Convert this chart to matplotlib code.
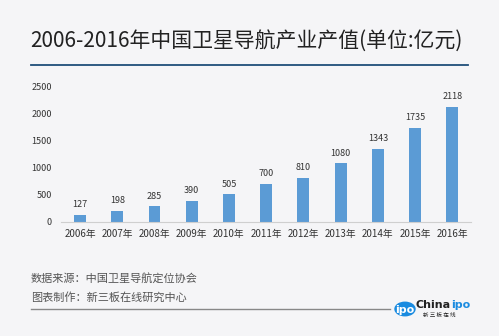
import matplotlib
matplotlib.use("Agg")
import matplotlib.pyplot as plt
from matplotlib.patches import Circle
from matplotlib.lines import Line2D

plt.rcParams['font.family'] = ['Noto Sans CJK SC', 'DejaVu Sans']

years = ['2006年', '2007年', '2008年', '2009年', '2010年', '2011年',
         '2012年', '2013年', '2014年', '2015年', '2016年']
values = [127, 198, 285, 390, 505, 700, 810, 1080, 1343, 1735, 2118]
yticks = [0, 500, 1000, 1500, 2000, 2500]

title = '2006-2016年中国卫星导航产业产值(单位:亿元)'
source = '数据来源：中国卫星导航定位协会'
maker = '图表制作：新三板在线研究中心'

bg = '#f5f5f7'
bar_color = '#5b9bd5'

W, H = 499, 336
fig = plt.figure(figsize=(W / 100, H / 100), dpi=100, facecolor=bg)

def fx(px):
    return px / W

def fy(py):
    return 1 - py / H

ax = fig.add_axes([fx(61.4), fy(221.7), fx(471) - fx(61.4), fy(86) - fy(221.7)])
ax.set_facecolor(bg)
x = list(range(len(years)))
ax.bar(x, values, width=0.32, color=bar_color, zorder=2)
ax.set_xlim(-0.5, len(years) - 0.5)
ax.set_ylim(0, 2500)
ax.set_yticks(yticks)
ax.set_yticklabels([str(t) for t in yticks], fontsize=6.5, color='#333333')
ax.set_xticks(x)
ax.set_xticklabels(years, fontsize=7, color='#333333')
for s in ['top', 'right', 'left']:
    ax.spines[s].set_visible(False)
ax.spines['bottom'].set_color('#cfcfcf')
ax.spines['bottom'].set_linewidth(0.8)
ax.tick_params(axis='both', length=0)
ax.tick_params(axis='y', pad=7)
ax.tick_params(axis='x', pad=5)
for xi, v in zip(x, values):
    ax.annotate(str(v), (xi, v), xytext=(0, 4), textcoords='offset points',
                ha='center', va='bottom', fontsize=6.5, color='#333333')

# Title and rule
fig.text(fx(30), fy(41), title, fontsize=15, color='#222222', va='center', ha='left')
fig.add_artist(Line2D([fx(31), fx(468)], [fy(65), fy(65)], color='#1f4e79', lw=1.3))

# Footer
fig.text(fx(31), fy(278), source, fontsize=8, color='#555555', va='center', ha='left')
fig.text(fx(31), fy(297), maker, fontsize=8, color='#555555', va='center', ha='left')
fig.add_artist(Line2D([fx(31), fx(390)], [fy(309), fy(309)], color='#888888', lw=1.0))

# Logo
circ = Circle((fx(405), fy(309)), 10 / W, color='#1a8be0', zorder=3)
circ.set_transform(fig.transFigure)
fig.add_artist(circ)
fig.text(fx(405), fy(310), 'ipo', fontsize=8, color='white', weight='bold',
         ha='center', va='center', zorder=4, family=['DejaVu Sans'])
fig.text(fx(451), fy(305), 'China', fontsize=8, color='#222222', weight='bold',
         ha='right', va='center', family=['DejaVu Sans'])
fig.text(fx(451.5), fy(305), 'ipo', fontsize=8, color='#1a8be0', weight='bold',
         ha='left', va='center', family=['DejaVu Sans'])
fig.text(fx(423), fy(315.5), '新 三 板 在 线', fontsize=4, color='#222222',
         ha='left', va='center')

fig.savefig('out.png', dpi=100, facecolor=bg)
